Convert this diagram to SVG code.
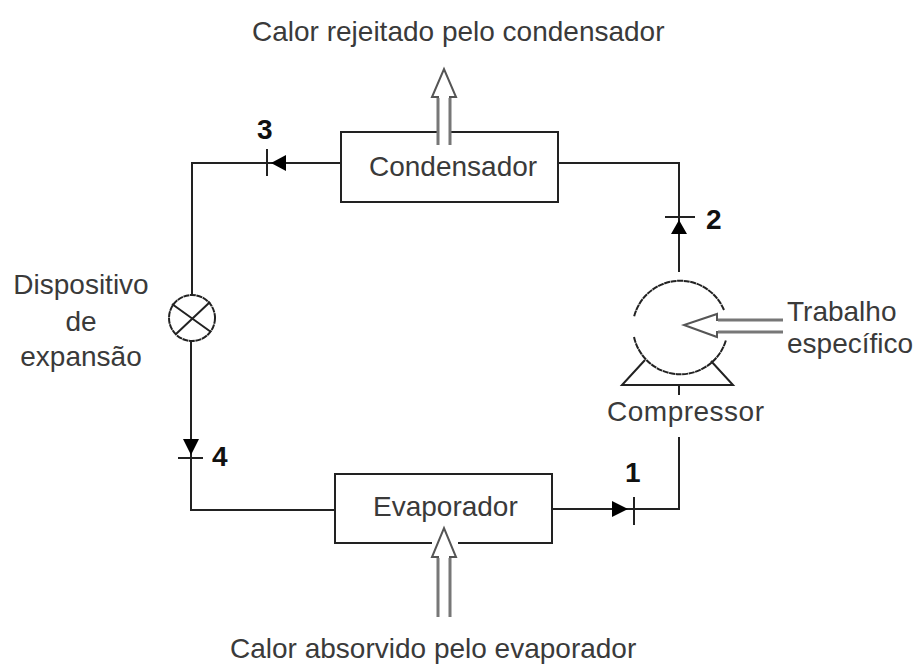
<svg xmlns="http://www.w3.org/2000/svg" width="916" height="664" viewBox="0 0 916 664">
<style>
text{font-family:"Liberation Sans",Arial,sans-serif;font-size:28px;fill:#3a3a3a}
.n{font-weight:bold;fill:#111}
.l{fill:none;stroke:#222;stroke-width:2}
.c{fill:none;stroke:#222;stroke-width:2;stroke-dasharray:6 .6}
.a{fill:#fff;stroke:#555;stroke-width:2}
.s{fill:none;stroke:#777;stroke-width:3}
.h{fill:#000;stroke:none}
</style>
<rect width="916" height="664" fill="#fff"/>
<g id="connectors">
<path class="l" d="M340 163H192V295M191 341V510H335M552 509H679V437M679 395V386M679 272V163H558"/>
<path class="l" d="M267 149V176M178 458H203M634 497V525M665 217H695"/>
<path class="h" d="M271 163L286 155V171ZM679 220L671 234H687ZM191 455L183 439H199ZM628 509L612 501V517Z"/>
</g>
<g id="condensador"><path class="l" d="M437 132H341V202H558V132H451"/><text x="369" y="176">Condensador</text></g>
<g id="evaporador"><path class="l" d="M432 543H335V474H552V543H458"/><text x="373" y="516">Evaporador</text></g>
<g id="compressor">
<path class="c" d="M724 310A47.500 47.500 0 0 0 634 317M634 337A47.500 47.500 0 0 0 726 340"/>
<path class="l" d="M645 360L622 385H733L711 361"/>
<text x="607" y="421" textLength="157">Compressor</text>
</g>
<g id="dispositivo">
<circle class="c" cx="192" cy="318" r="23"/>
<path class="l" d="M172 304L211 332M176 334L210 302"/>
<text x="81" y="294" text-anchor="middle">Dispositivo</text>
<text x="81" y="331" text-anchor="middle">de</text>
<text x="81" y="366" text-anchor="middle">expansão</text>
</g>
<g id="arrow-calor-rejeitado"><path class="a" d="M438 145V97H432L444 69L456 97H450V145"/><path class="s" d="M438 98V145M450 98V145"/></g>
<g id="arrow-calor-absorvido"><path class="a" d="M438 617V557H432L444 528L456 557H450V617"/><path class="s" d="M438 558V617M450 558V617"/></g>
<g id="arrow-trabalho"><path class="a" d="M783 320H717V314L684 325L717 337V332H783"/><path class="s" d="M718 320H783M718 332H783"/></g>
<g id="labels">
<text x="252" y="41">Calor rejeitado pelo condensador</text>
<text x="230" y="658">Calor absorvido pelo evaporador</text>
<text x="787" y="321">Trabalho</text>
<text x="787" y="353">específico</text>
<text class="n" x="257" y="139">3</text>
<text class="n" x="706" y="229">2</text>
<text class="n" x="212" y="466">4</text>
<text class="n" x="625" y="482">1</text>
</g>
</svg>
